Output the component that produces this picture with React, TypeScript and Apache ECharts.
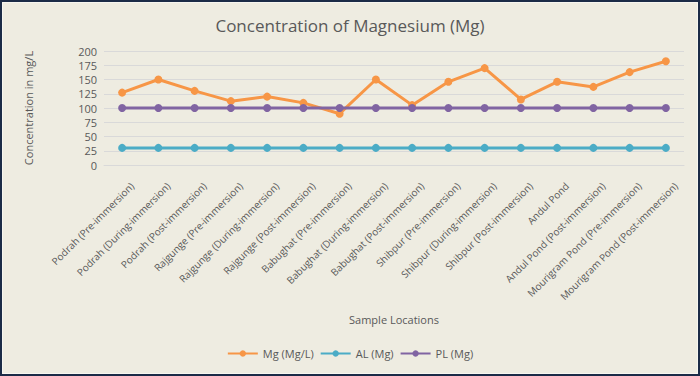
import React, { useEffect, useRef } from "react";
import * as echarts from "echarts";

const categories = [
  "Podrah (Pre-immersion)",
  "Podrah (During-immersion)",
  "Podrah (Post-immersion)",
  "Rajgunge (Pre-immersion)",
  "Rajgunge (During-immersion)",
  "Rajgunge (Post-immersion)",
  "Babughat (Pre-immersion)",
  "Babughat (During-immersion)",
  "Babughat (Post-immersion)",
  "Shibpur (Pre-immersion)",
  "Shibpur (During-immersion)",
  "Shibpur (Post-immersion)",
  "Andul Pond",
  "Andul Pond (Post-immersion)",
  "Mourigram Pond (Pre-immersion)",
  "Mourigram Pond (Post-immersion)",
];
const mgValues = [127, 150, 130, 112, 120, 109, 90, 150, 105, 146, 170, 115, 146, 137, 163, 182];
const alValues = [30, 30, 30, 30, 30, 30, 30, 30, 30, 30, 30, 30, 30, 30, 30, 30];
const plValues = [100, 100, 100, 100, 100, 100, 100, 100, 100, 100, 100, 100, 100, 100, 100, 100];
const seriesNames = ["Mg (Mg/L)", "AL (Mg)", "PL (Mg)"];
const colors = ["#F79646", "#4BACC6", "#8064A2"];

const FONT = "'Open Sans', 'Liberation Sans', sans-serif";

export default function App() {
  const ref = useRef<HTMLDivElement>(null);
  useEffect(() => {
    document.body.style.margin = "0";
    const chart = echarts.init(ref.current!, null, { renderer: "svg" });
    const mk = (name: string, data: number[], color: string) => ({
      name,
      type: "line",
      data,
      symbol: "circle",
      symbolSize: 8,
      lineStyle: { width: 3, color },
      itemStyle: { color },
    });
    chart.setOption({
      animation: false,
      backgroundColor: "#EEECE1",
      textStyle: { fontFamily: FONT },
      title: {
        text: "Concentration of Magnesium (Mg)",
        left: "center",
        top: 12,
        textStyle: { fontFamily: FONT, fontSize: 17, fontWeight: "normal", color: "#595959" },
      },
      graphic: [
        {
          type: "rect",
          shape: { x: 1, y: 1, width: 698, height: 374 },
          style: { fill: "none", stroke: "#1B2B47", lineWidth: 2 },
          silent: true,
        },
        {
          type: "rect",
          shape: { x: 2.5, y: 2.5, width: 695, height: 371 },
          style: { fill: "none", stroke: "#F7F6F0", lineWidth: 1 },
          silent: true,
        },
      ],
      legend: {
        data: seriesNames,
        bottom: 12,
        left: "center",
        itemWidth: 30,
        itemHeight: 8,
        itemGap: 6,
        textStyle: { fontFamily: FONT, fontSize: 11, color: "#595959" },
      },
      grid: { left: 104, right: 16, top: 51, bottom: 211, containLabel: false },
      xAxis: {
        type: "category",
        data: categories,
        boundaryGap: true,
        name: "Sample Locations",
        nameLocation: "middle",
        nameGap: 149,
        nameTextStyle: { fontFamily: FONT, fontSize: 11, color: "#595959" },
        axisLine: { lineStyle: { color: "#D9D9D9" } },
        axisTick: { show: false },
        axisLabel: {
          rotate: 45,
          interval: 0,
          margin: 29,
          padding: [0, -14, 0, 0],
          fontSize: 10,
          fontFamily: FONT,
          color: "#595959",
        },
      },
      yAxis: {
        type: "value",
        min: 0,
        max: 200,
        interval: 25,
        name: "Concentration in mg/L",
        nameLocation: "middle",
        nameGap: 70,
        nameRotate: 90,
        nameTextStyle: { fontFamily: FONT, fontSize: 11, color: "#595959" },
        axisLine: { show: false },
        axisTick: { show: false },
        axisLabel: { fontSize: 11, fontFamily: FONT, color: "#595959", margin: 7 },
        splitLine: { lineStyle: { color: "#D9D9D9" } },
      },
      series: [
        mk(seriesNames[0], mgValues, colors[0]),
        mk(seriesNames[1], alValues, colors[1]),
        mk(seriesNames[2], plValues, colors[2]),
      ],
    });
    return () => chart.dispose();
  }, []);
  return (
    <div
      ref={ref}
      style={{ position: "absolute", left: 0, top: 0, width: 700, height: 376 }}
    />
  );
}
